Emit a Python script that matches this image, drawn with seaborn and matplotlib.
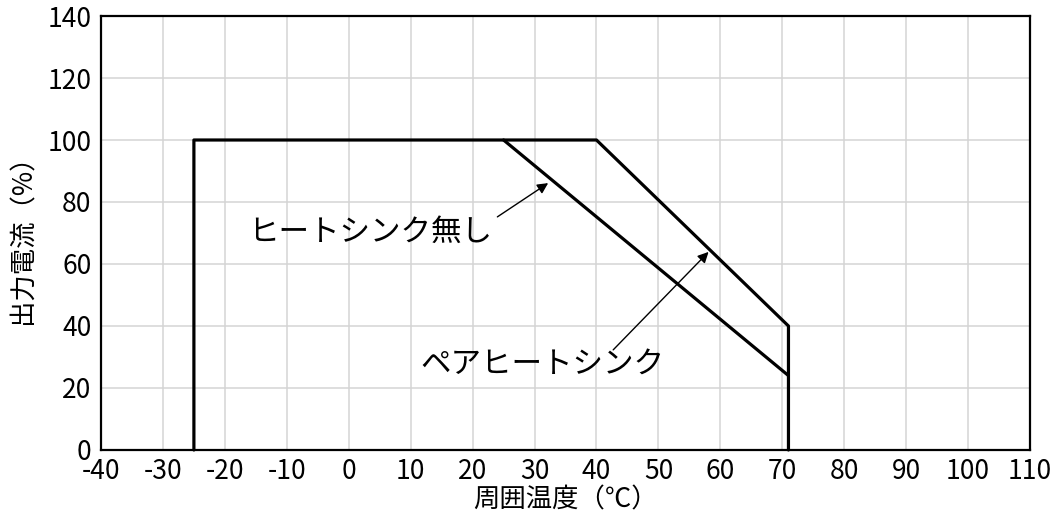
import matplotlib
matplotlib.use("Agg")
import matplotlib.pyplot as plt
import seaborn as sns
import pandas as pd

# Data
pair_x = [-25, -25, 40, 71, 71]
pair_y = [0, 100, 100, 40, 0]
none_x = [25, 71]
none_y = [100, 24]
x_ticks = list(range(-40, 111, 10))
y_ticks = list(range(0, 141, 20))
label_none = "ヒートシンク無し"
label_pair = "ペアヒートシンク"
xlabel = "周囲温度（℃）"
ylabel = "出力電流（%）"

sns.set_theme(style="white")
plt.rcParams['font.family'] = ['Noto Sans CJK JP', 'DejaVu Sans']
plt.rcParams['axes.unicode_minus'] = False

fig = plt.figure(figsize=(10.58, 5.25), dpi=100)
ax = fig.add_axes([101/1058, 75/525, 929/1058, 434/525])

df_pair = pd.DataFrame({"x": pair_x, "y": pair_y})
df_none = pd.DataFrame({"x": none_x, "y": none_y})
sns.lineplot(data=df_pair, x="x", y="y", sort=False, estimator=None,
             color="black", linewidth=2.3, ax=ax, clip_on=False, zorder=3)
sns.lineplot(data=df_none, x="x", y="y", sort=False, estimator=None,
             color="black", linewidth=2.3, ax=ax, clip_on=False, zorder=3)

ax.set_xlim(-40, 110)
ax.set_ylim(0, 140)
ax.set_xticks(x_ticks)
ax.set_yticks(y_ticks)
ax.grid(True, color="#d4d4d4", linewidth=1.1)
ax.set_axisbelow(True)
for s in ax.spines.values():
    s.set_color("black")
    s.set_linewidth(1.6)
ax.tick_params(axis="both", length=0, labelsize=19, colors="black")
ax.tick_params(axis="y", pad=7)
ax.tick_params(axis="x", pad=6)
ax.set_xlabel(xlabel, fontsize=19, color="black", labelpad=1)
ax.set_ylabel(ylabel, fontsize=19, color="black", labelpad=8)

ax.text(-16.3, 70.3, label_none, fontsize=22, color="black",
        ha="left", va="center")
ax.text(11.5, 27.6, label_pair, fontsize=22, color="black",
        ha="left", va="center")
ax.annotate("", xy=(32.2, 86.1), xytext=(24.0, 75.2),
            arrowprops=dict(arrowstyle="-|>", color="black", lw=1.0,
                            mutation_scale=16, shrinkA=0, shrinkB=0))
ax.annotate("", xy=(58.1, 63.9), xytext=(42.7, 32.3),
            arrowprops=dict(arrowstyle="-|>", color="black", lw=1.0,
                            mutation_scale=16, shrinkA=0, shrinkB=0))

fig.savefig("out.png", dpi=100)
